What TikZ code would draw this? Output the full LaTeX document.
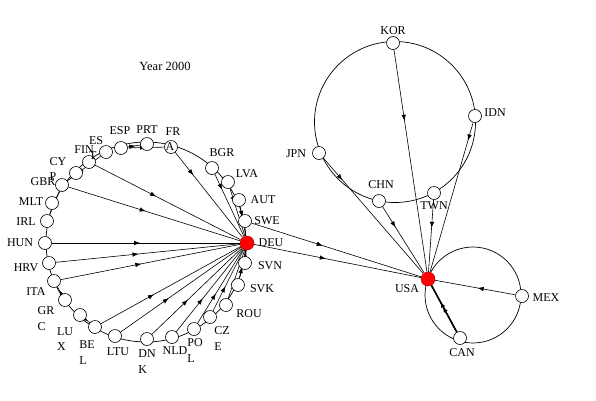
\documentclass[tikz,border=0pt]{standalone}
\usepackage{fontspec}
\setmainfont{Liberation Serif}
\usetikzlibrary{arrows.meta,decorations.markings,backgrounds}
\begin{document}
\begin{tikzpicture}[x=1pt,y=-1pt,
  cn/.style={circle,draw,fill=white,minimum size=13pt,inner sep=0pt,line width=0.6pt},
  rn/.style={circle,fill=red,draw=red!75!black,minimum size=14pt,inner sep=0pt,line width=0.5pt},
  lbl/.style={font=\fontsize{12}{15.5}\selectfont,inner sep=0pt,align=left},
  ring/.style={draw,line width=0.7pt},
  fl/.style={draw,line width=0.6pt,postaction={decorate},decoration={markings,
     mark=at position #1 with {\arrow{Latex[length=6pt,width=4.5pt]}}}},
  rl/.style={draw,line width=0.6pt,postaction={decorate},decoration={markings,
     mark=at position #1 with {\arrowreversed{Latex[length=6pt,width=4.5pt]}}}},
]
\useasboundingbox (0,0) rectangle (596,400);
% left cluster nodes
\node[rn] (DEU) at (247,243) {};
\node[cn] (SWE) at (245,221) {};
\node[cn] (AUT) at (239,200) {};
\node[cn] (LVA) at (228,182) {};
\node[cn] (BGR) at (212,168) {};
\node[cn] (FRA) at (171,147) {};
\node[cn] (PRT) at (147,144) {};
\node[cn] (ESP) at (121,148) {};
\node[cn] (EST) at (106,152) {};
\node[cn] (FIN) at (89,162) {};
\node[cn] (CYP) at (76,173) {};
\node[cn] (GBR) at (62,185) {};
\node[cn] (MLT) at (52,203) {};
\node[cn] (IRL) at (47,221) {};
\node[cn] (HUN) at (45,243) {};
\node[cn] (HRV) at (49,263) {};
\node[cn] (ITA) at (54,281) {};
\node[cn] (GRC) at (65,300) {};
\node[cn] (LUX) at (80,315) {};
\node[cn] (BEL) at (95,327) {};
\node[cn] (LTU) at (115,336) {};
\node[cn] (DNK) at (147,339) {};
\node[cn] (NLD) at (172,337) {};
\node[cn] (POL) at (194,329) {};
\node[cn] (CZE) at (210,317) {};
\node[cn] (ROU) at (226,305) {};
\node[cn] (SVK) at (238,285) {};
\node[cn] (SVN) at (245,263) {};
% right cluster nodes
\node[cn] (KOR) at (393,43) {};
\node[cn] (IDN) at (475,116) {};
\node[cn] (JPN) at (319,153) {};
\node[cn] (CHN) at (379,201) {};
\node[cn] (TWN) at (434,193) {};
\node[rn] (USA) at (428,279) {};
\node[cn] (MEX) at (522,296) {};
\node[cn] (CAN) at (460,338) {};
\coordinate (cL) at (146,242);
\coordinate (cR) at (395,122);
\coordinate (cS) at (473,295);
\begin{scope}[on background layer]
\draw[ring] (cL) circle[radius=100];
\draw[ring] (cR) circle[radius=80.5];
\draw[ring] (cS) circle[radius=48];
% edges into DEU
\draw[fl=0.42] (FIN) -- (DEU);
\draw[fl=0.45] (GBR) -- (DEU);
\draw[fl=0.27] (FRA) -- (DEU);
\draw[fl=0.25] (BGR) -- (DEU);
\draw[fl=0.3] (LVA) -- (DEU);
\draw[fl=0.35] (AUT) -- (DEU);
\draw[fl=0.47] (HUN) -- (DEU);
\draw[fl=0.45] (HRV) -- (DEU);
\draw[fl=0.45] (ITA) -- (DEU);
\draw[fl=0.38] (BEL) -- (DEU);
\draw[fl=0.4] (LTU) -- (DEU);
\draw[fl=0.4] (DNK) -- (DEU);
\draw[fl=0.4] (NLD) -- (DEU);
\draw[fl=0.4] (POL) -- (DEU);
\draw[fl=0.4] (CZE) -- (DEU);
\draw[fl=0.4] (ROU) -- (DEU);
\draw[fl=0.4] (SVK) -- (DEU);
\draw[fl=0.5] (SVN) -- (DEU);
% other left edges
\draw[fl=0.5] (ESP) -- (FRA);
\draw[fl=0.6] (ESP) -- (PRT);
\draw[fl=0.7] (EST) -- (GBR);
\draw[fl=0.55] (IRL) -- (GBR);
\draw[fl=0.5] (GRC) -- (ITA);
\draw[fl=0.6] (LUX) -- (BEL);
% Europe to USA
\draw[fl=0.43] (DEU) -- (USA);
\draw[fl=0.42] (SWE) -- (USA);
% right edges
\draw[fl=0.32] (KOR) -- (USA);
\draw[fl=0.12] (IDN) -- (USA);
\draw[fl=0.39] (TWN) -- (USA);
\draw[fl=0.31] (CHN) -- (USA);
\draw[fl=0.19] (JPN) -- (USA);
\draw[fl=0.47] (MEX) -- (USA);
\draw[fl=0.65,line width=1.4pt] (CAN) -- (USA);
\draw[rl=0.45,line width=1.4pt] (USA) -- (CAN);
\end{scope}
% labels
\node[lbl,font=\fontsize{12.5}{15}\selectfont] (title) at (165,66) {Year 2000};
\node[lbl] (tKOR) at (393,31) {KOR};
\node[lbl] (tIDN) at (495,113) {IDN};
\node[lbl] (tJPN) at (296,154) {JPN};
\node[lbl] (tCHN) at (381,185) {CHN};
\node[lbl] (tTWN) at (434,206) {TWN};
\node[lbl] (tUSA) at (407,289) {USA};
\node[lbl] (tMEX) at (546,298) {MEX};
\node[lbl] (tCAN) at (462,353) {CAN};
\node[lbl] (tDEU) at (271,243) {DEU};
\node[lbl] (tSWE) at (267,221) {SWE};
\node[lbl] (tAUT) at (263,200) {AUT};
\node[lbl] (tLVA) at (247,174) {LVA};
\node[lbl] (tBGR) at (222,153) {BGR};
\node[lbl] (tFRA) at (173,139) {FR\\A};
\node[lbl] (tPRT) at (147,130) {PRT};
\node[lbl] (tESP) at (120,131) {ESP};
\node[lbl] (tEST) at (96,148) {ES\\T};
\node[lbl] (tFIN) at (84,150) {FIN};
\node[lbl] (tCYP) at (58,169) {CY\\P};
\node[lbl] (tGBR) at (43,182) {GBR};
\node[lbl] (tMLT) at (31,202) {MLT};
\node[lbl] (tIRL) at (26,222) {IRL};
\node[lbl] (tHUN) at (20,243) {HUN};
\node[lbl] (tHRV) at (26,268) {HRV};
\node[lbl] (tITA) at (36,292) {ITA};
\node[lbl] (tGRC) at (46,318.5) {GR\\C};
\node[lbl] (tLUX) at (65,339) {LU\\X};
\node[lbl] (tBEL) at (87,352.5) {BE\\L};
\node[lbl] (tLTU) at (118,352) {LTU};
\node[lbl] (tDNK) at (147,361.5) {DN\\K};
\node[lbl] (tNLD) at (175,351) {NLD};
\node[lbl] (tPOL) at (195,350.5) {PO\\L};
\node[lbl] (tCZE) at (222,338.5) {CZ\\E};
\node[lbl] (tROU) at (249,314) {ROU};
\node[lbl] (tSVK) at (262,289) {SVK};
\node[lbl] (tSVN) at (270,266) {SVN};
\end{tikzpicture}
\end{document}
